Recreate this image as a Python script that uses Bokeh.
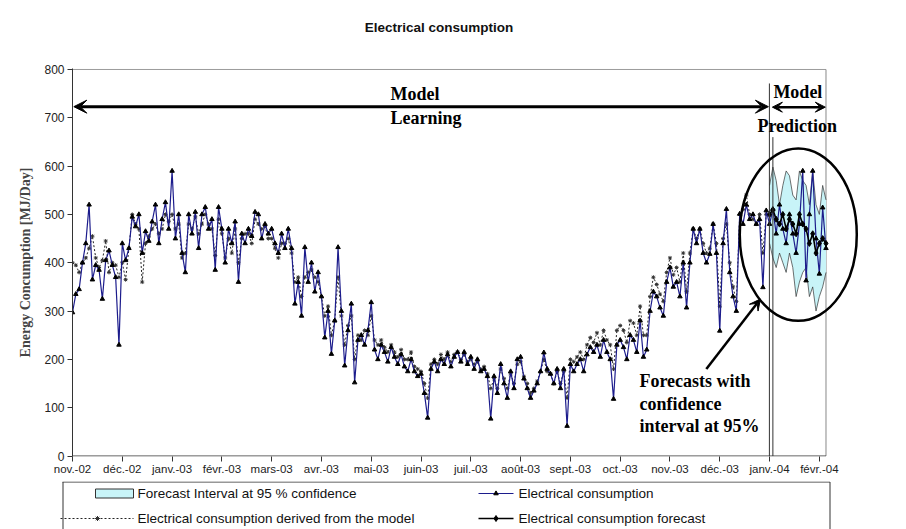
from bokeh.plotting import figure
from bokeh.layouts import column
from bokeh.models import Label, Arrow, VeeHead, FixedTicker
from bokeh.embed import file_html
from bokeh.resources import INLINE
from bokeh.core.properties import value

# ---------------- data (one value every 2 days) ----------------
month_labels = ["nov.-02", "déc.-02", "janv.-03", "févr.-03", "mars-03", "avr.-03",
                "mai-03", "juin-03", "juil.-03", "août-03", "sept.-03", "oct.-03",
                "nov.-03", "déc.-03", "janv.-04", "févr.-04"]
month_ticks = [0, 30, 60, 90, 120, 150, 180, 210, 240, 270, 300, 330, 360, 390, 420, 450]

cons_nov02 = [297, 335, 345, 400, 440, 520, 365, 395, 385, 325, 405, 425, 395, 370, 230]
cons_dec02 = [440, 405, 430, 495, 475, 500, 420, 465, 445, 485, 520, 440, 490, 525, 470]
cons_jan03 = [590, 450, 500, 420, 380, 500, 460, 505, 430, 500, 515, 470, 490, 385, 515]
cons_feb03 = [470, 400, 470, 440, 485, 360, 460, 440, 470, 455, 505, 500, 450, 480, 460]
cons_mar03 = [470, 440, 420, 460, 430, 470, 430, 315, 360, 290, 432, 360, 400, 340, 380]
cons_apr03 = [330, 245, 300, 211, 280, 432, 300, 187, 260, 315, 152, 240, 250, 230, 260]
cons_may03 = [318, 220, 200, 230, 215, 195, 225, 205, 190, 210, 185, 175, 200, 175, 165]
cons_jun03 = [170, 130, 79, 180, 195, 175, 200, 190, 210, 185, 205, 215, 195, 215, 190]
cons_jul03 = [205, 180, 200, 175, 180, 165, 77, 165, 130, 190, 150, 120, 175, 140, 200]
cons_aug03 = [205, 160, 140, 120, 135, 150, 175, 214, 180, 170, 150, 180, 140, 180, 62]
cons_sep03 = [190, 175, 190, 200, 175, 210, 225, 215, 230, 205, 240, 215, 200, 118, 230]
cons_oct03 = [240, 225, 200, 250, 240, 215, 280, 205, 220, 300, 340, 330, 307, 290, 360]
cons_nov03 = [390, 350, 360, 330, 400, 307, 400, 470, 440, 470, 420, 400, 418, 480, 420]
cons_dec03 = [259, 440, 511, 380, 330, 300, 501, 480, 520, 490, 500, 480, 490, 349, 508]
cons_pred = [480, 510, 460, 520, 470, 440, 500, 460, 420, 480, 590, 363, 500, 590, 450, 377, 514, 430]

model_nov02 = [400, 395, 380, 400, 410, 430, 455, 410, 390, 405, 445, 380, 400, 395, 370]
model_dec02 = [400, 365, 430, 500, 480, 470, 360, 440, 455, 470, 480, 460, 470, 500, 485]
model_jan03 = [500, 470, 480, 410, 420, 480, 470, 495, 460, 480, 500, 480, 470, 415, 490]
model_feb03 = [460, 410, 450, 420, 470, 400, 450, 460, 460, 440, 490, 480, 470, 475, 450]
model_mar03 = [450, 430, 410, 440, 440, 450, 420, 360, 370, 330, 370, 380, 385, 370, 360]
model_apr03 = [330, 290, 310, 250, 280, 370, 290, 230, 270, 290, 200, 250, 240, 260, 250]
model_may03 = [290, 240, 230, 240, 225, 215, 230, 215, 205, 220, 200, 200, 215, 185, 180]
model_jun03 = [175, 150, 120, 190, 200, 190, 210, 200, 215, 195, 210, 215, 200, 210, 195]
model_jul03 = [200, 190, 195, 180, 185, 170, 140, 160, 140, 180, 160, 140, 170, 150, 190]
model_aug03 = [195, 165, 150, 130, 140, 155, 175, 200, 175, 170, 150, 175, 150, 175, 120]
model_sep03 = [200, 195, 205, 215, 200, 230, 245, 235, 255, 230, 260, 240, 230, 180, 260]
model_oct03 = [270, 260, 235, 280, 275, 250, 310, 250, 250, 330, 370, 355, 335, 320, 380]
model_nov03 = [410, 375, 390, 360, 420, 340, 420, 470, 450, 470, 440, 420, 430, 480, 440]
model_dec03 = [310, 450, 480, 400, 350, 320, 500, 510, 540, 500, 490, 480, 500, 420, 500]

forecast = [500, 510, 490, 480, 500, 470, 490, 480, 460, 500, 480, 470, 440, 460, 420, 440, 450, 440]
band_hi = [560, 598, 570, 520, 560, 590, 580, 540, 530, 590, 570, 560, 520, 590, 520, 500, 560, 530]
band_lo = [440, 410, 390, 420, 400, 380, 420, 390, 330, 360, 380, 390, 330, 350, 300, 330, 350, 380]

consumption = (cons_nov02 + cons_dec02 + cons_jan03 + cons_feb03 + cons_mar03 + cons_apr03 +
               cons_may03 + cons_jun03 + cons_jul03 + cons_aug03 + cons_sep03 + cons_oct03 +
               cons_nov03 + cons_dec03 + cons_pred)
model = (model_nov02 + model_dec02 + model_jan03 + model_feb03 + model_mar03 + model_apr03 +
         model_may03 + model_jun03 + model_jul03 + model_aug03 + model_sep03 + model_oct03 +
         model_nov03 + model_dec03)
cons_days = list(range(0, 2 * len(consumption), 2))
model_days = list(range(0, 2 * len(model), 2))
fc_days = list(range(420, 420 + 2 * len(forecast), 2))

NAVY = "#1c1c8c"
SERIF = "Liberation Serif"
SANS = "Liberation Sans"

# ---------------- title panel ----------------
tf = figure(width=906, height=50, x_range=(0, 906), y_range=(0, 50),
            output_backend="svg", toolbar_location=None, min_border=0,
            x_axis_type=None, y_axis_type=None, frame_align=False)
tf.outline_line_color = None
tf.text(x=[438.5], y=[23], text=["Electrical consumption"], text_font=value(SANS),
        text_font_size="13.5px", text_font_style="bold", text_align="center",
        text_baseline="middle", text_color="#111111")

# ---------------- main figure ----------------
p = figure(width=906, height=431, x_range=(0, 476), y_range=(-1, 802),
           output_backend="svg", toolbar_location=None, frame_align=False,
           min_border_left=72, min_border_right=44, min_border_top=18, min_border_bottom=25)
p.outline_line_color = None
p.xgrid.visible = False
p.ygrid.visible = False
p.background_fill_color = "white"

p.xaxis.ticker = FixedTicker(ticks=month_ticks)
p.xaxis.major_label_overrides = {t: lab for t, lab in zip(month_ticks, month_labels)}
p.xaxis.axis_line_color = None
p.xaxis.major_tick_line_color = "#333333"
p.xaxis.major_tick_out = 5
p.xaxis.major_tick_in = 0
p.xaxis.minor_tick_line_color = None
p.xaxis.major_label_standoff = 1
p.xaxis.major_label_text_font = SANS
p.xaxis.major_label_text_font_size = "11.5px"
p.xaxis.major_label_text_color = "#222222"

p.yaxis.ticker = FixedTicker(ticks=[0, 100, 200, 300, 400, 500, 600, 700, 800])
p.yaxis.axis_line_color = "#333333"
p.yaxis.major_tick_line_color = "#333333"
p.yaxis.major_tick_out = 5
p.yaxis.major_tick_in = 0
p.yaxis.minor_tick_line_color = None
p.yaxis.major_label_standoff = 3
p.yaxis.major_label_text_font = SANS
p.yaxis.major_label_text_font_size = "12px"
p.yaxis.major_label_text_color = "#222222"
p.yaxis.axis_label = "Energy Concumption [MJ/Day]"
p.yaxis.axis_label_text_font = SERIF
p.yaxis.axis_label_text_font_style = "bold"
p.yaxis.axis_label_text_font_size = "14px"
p.yaxis.axis_label_standoff = 8

# plot area borders
p.segment(x0=[0], y0=[800], x1=[454], y1=[800], line_color="#999999", line_width=1)
p.segment(x0=[454], y0=[0], x1=[454], y1=[800], line_color="#888888", line_width=1)
p.segment(x0=[0], y0=[0], x1=[454], y1=[0], line_color="#333333", line_width=1)

# forecast interval band
p.varea(x=fc_days, y1=band_lo, y2=band_hi, fill_color="#c8f4f8")
p.line(fc_days, band_hi, line_color="#333333", line_width=0.7)
p.line(fc_days, band_lo, line_color="#333333", line_width=0.7)

# model derived
p.line(model_days, model, line_color="#222222", line_width=1, line_dash="2 2")
p.scatter(model_days, model, marker="asterisk", size=4, line_color="#333333")

# consumption
p.line(cons_days, consumption, line_color=NAVY, line_width=1.2)
p.scatter(cons_days, consumption, marker="triangle", size=4.5, fill_color="black", line_color="black")

# forecast
p.line(fc_days, forecast, line_color="black", line_width=1.6)
p.scatter(fc_days, forecast, marker="diamond", size=6, fill_color="black", line_color="black")

# separation lines
p.segment(x0=[419.9], y0=[771], x1=[419.9], y1=[0], line_color="#333333", line_width=1)
p.segment(x0=[422.0], y0=[660], x1=[422.0], y1=[0], line_color="#333333", line_width=1)

# ellipse around prediction
p.ellipse(x=[437.3], y=[458], width=[70.5], height=[356.5], fill_color=None,
          line_color="black", line_width=2.5)

# arrows
p.add_layout(Arrow(x_start=0.8, y_start=723, x_end=419.3, y_end=723, line_width=3,
                   line_color="black",
                   start=VeeHead(size=13, fill_color="black", line_color="black"),
                   end=VeeHead(size=13, fill_color="black", line_color="black")))
p.add_layout(Arrow(x_start=421.7, y_start=722, x_end=453.6, y_end=722, line_width=2.5,
                   line_color="black",
                   start=VeeHead(size=10, fill_color="black", line_color="black"),
                   end=VeeHead(size=10, fill_color="black", line_color="black")))
p.add_layout(Arrow(x_start=381.9, y_start=180, x_end=414.5, y_end=325, line_width=2.5,
                   line_color="black",
                   end=VeeHead(size=11, fill_color="black", line_color="black")))

def lab(x, y, t):
    p.add_layout(Label(x=x, y=y, text=t, text_font=SERIF, text_font_size="18px",
                       text_font_style="bold", text_baseline="middle", text_align="left",
                       text_color="black"))

lab(191.6, 750, "Model")
lab(191.6, 700, "Learning")
lab(422.3, 754, "Model")
lab(412.7, 684, "Prediction")
lab(341.6, 155, "Forecasts with")
lab(341.6, 108, "confidence")
lab(341.6, 62, "interval at 95%")

# ---------------- legend panel ----------------
lg = figure(width=906, height=48, x_range=(0, 906), y_range=(0, 48),
            output_backend="svg", toolbar_location=None, min_border=0,
            x_axis_type=None, y_axis_type=None, frame_align=False)
lg.outline_line_color = None
lg.background_fill_color = "white"

lg.segment(x0=[62], y0=[47.5], x1=[829.5], y1=[47.5], line_color="#333333", line_width=1)
lg.segment(x0=[62.5], y0=[47.5], x1=[62.5], y1=[0], line_color="#333333", line_width=1)
lg.segment(x0=[829.5], y0=[47.5], x1=[829.5], y1=[0], line_color="#333333", line_width=1)

lg.quad(left=[95], right=[133], top=[40.5], bottom=[31.5], fill_color="#c8f4f8", line_color="#333333")
lg.line([60, 133], [11, 11], line_color="#222222", line_width=1, line_dash="2 2")
lg.scatter([97], [11], marker="asterisk", size=5, line_color="#333333")
lg.line([478, 513], [36, 36], line_color=NAVY, line_width=1.2)
lg.scatter([495.5], [36], marker="triangle", size=4.5, fill_color="black", line_color="black")
lg.line([478, 513], [11, 11], line_color="black", line_width=1.6)
lg.scatter([495.5], [11], marker="diamond", size=6, fill_color="black", line_color="black")

lg.text(x=[137, 137, 518, 518], y=[36, 11, 36, 11],
        text=["Forecast Interval at 95 % confidence",
              "Electrical consumption derived from the model",
              "Electrical consumption",
              "Electrical consumption forecast"],
        text_font=value(SANS), text_font_size="13.5px", text_baseline="middle",
        text_align="left", text_color="#111111")

layout = column(tf, p, lg, spacing=0)
open("out.html", "w").write(file_html(layout, INLINE))
